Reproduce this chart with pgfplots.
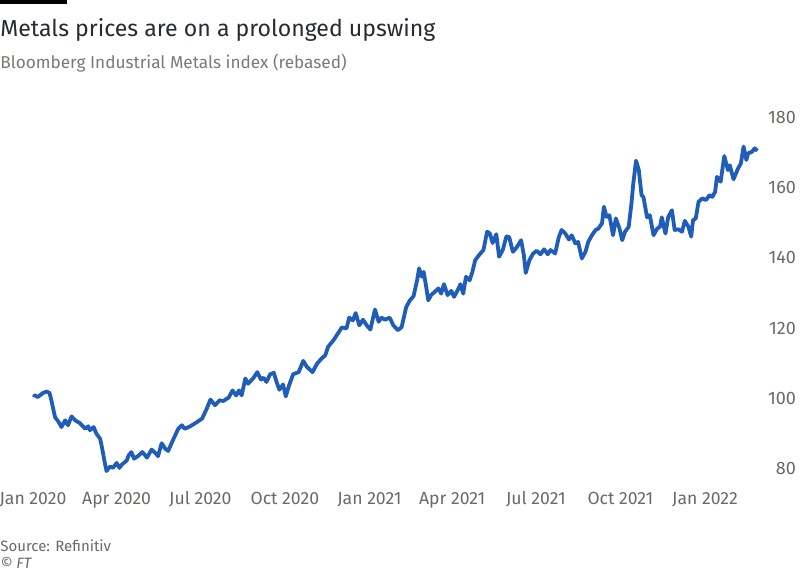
\documentclass[border=0pt]{standalone}
\usepackage{pgfplots}
\pgfplotsset{compat=1.18}
\usepackage{pgfplotstable}
\usepackage{fontspec}
\setmainfont{Fira Sans}
\definecolor{ftblue}{HTML}{1F5DB8}
\definecolor{fttitle}{HTML}{262A33}
\definecolor{ftgray}{HTML}{6E6863}
\definecolor{ftsub}{HTML}{7D7873}

% day = days since 1 Jan 2020, value = index (rebased)
\pgfplotstableread{
day value
1 100.4
2 100.9
5 100.4
11 101.6
15 102.0
18 101.6
20 99.5
24 94.7
28 93.3
31 91.9
35 93.8
38 92.4
42 94.9
46 93.8
51 93.0
57 91.4
60 92.1
62 91.0
66 91.9
69 90.0
73 88.6
75 86.2
78 81.9
80 79.4
84 80.7
87 80.3
91 81.7
94 80.3
97 81.3
102 82.4
104 83.8
107 84.8
110 82.9
115 83.8
119 84.8
124 83.2
129 85.5
134 84.3
136 83.6
140 87.3
144 85.7
147 85.1
153 88.6
158 91.4
162 92.4
165 91.4
171 92.1
176 92.9
184 94.3
189 97.1
193 99.7
198 98.1
203 99.5
207 99.3
213 100.3
217 102.3
221 100.9
224 102.3
227 100.9
231 105.7
234 104.2
240 105.9
244 107.5
248 105.4
251 105.9
254 104.7
258 106.9
262 107.3
265 104.7
268 102.5
272 104.0
275 100.6
278 103.3
283 106.9
289 107.5
294 110.7
298 109.0
304 107.5
309 109.9
314 111.4
318 112.3
321 114.7
327 116.6
332 118.6
336 120.2
341 119.9
344 123.0
348 122.2
351 124.3
355 120.8
359 122.4
363 120.8
367 119.6
372 125.3
376 121.8
379 123.0
383 122.4
388 123.0
392 120.8
397 119.4
401 120.3
406 126.0
410 127.9
414 129.1
418 133.8
420 137.0
423 134.6
425 136.0
428 131.3
430 127.9
433 129.4
437 130.3
441 131.3
444 129.8
447 132.5
451 129.4
455 130.6
458 128.9
462 130.8
465 132.5
468 129.8
471 134.6
475 133.6
478 136.0
481 139.3
485 140.7
490 142.2
494 147.4
497 146.9
500 144.2
504 146.7
507 140.3
511 142.2
515 146.1
518 145.9
522 141.7
526 142.9
531 145.0
534 140.7
536 135.7
540 139.3
544 141.2
548 142.0
552 141.0
556 142.4
560 141.0
563 142.2
568 141.2
572 145.9
575 147.9
579 146.9
583 145.2
586 146.4
590 144.1
593 144.5
597 139.8
601 141.7
604 144.5
608 146.4
612 147.9
615 148.3
619 149.8
621 154.5
624 151.6
627 152.1
631 146.4
634 151.2
638 148.3
641 145.0
644 147.4
648 148.8
651 155.4
653 161.1
656 167.6
658 165.9
659 164.9
662 157.8
664 157.3
668 151.5
671 152.1
675 146.4
679 148.3
682 148.8
684 151.5
688 146.9
691 151.6
695 153.5
698 147.9
702 148.1
706 147.4
709 150.5
713 148.8
716 146.0
718 150.7
721 151.2
724 155.9
728 156.9
732 156.4
736 157.8
739 157.3
742 158.7
744 163.0
748 161.6
752 168.9
756 164.9
758 166.3
762 162.3
767 165.4
770 166.8
773 171.6
776 167.8
778 169.7
782 170.1
785 171.1
788 170.4
}\metals

\begin{document}
\begin{tikzpicture}
\useasboundingbox (0,0) rectangle (400pt,285.5pt);
\fill[black] (0,283.3pt) rectangle (33.5pt,285.5pt);
\node[anchor=base west, inner sep=0pt, font=\fontsize{11.55}{13}\selectfont, text=fttitle] at (0,267pt) {Metals prices are on a prolonged upswing};
\node[anchor=base west, inner sep=0pt, font=\fontsize{8.6}{10}\selectfont, text=ftsub] at (0,251pt) {Bloomberg Industrial Metals index (rebased)};
\node[anchor=base west, inner sep=0pt, font=\fontsize{7.5}{9}\selectfont, text=ftgray] at (0,9.8pt) {Source: Refinitiv};
\node[anchor=base west, inner sep=0pt, font=\fontsize{7.5}{9}\selectfont\itshape, text=ftgray] at (0,1pt) {\textcopyright{} FT};
\begin{axis}[
  at={(0.4pt,44pt)}, anchor=south west,
  scale only axis, width=380.6pt, height=186.5pt,
  xmin=-35, xmax=793, ymin=76, ymax=182,
  axis line style={draw=none},
  tick style={draw=none},
  ytick={80,100,120,140,160,180},
  yticklabel pos=right,
  /pgf/number format/assume math mode=true,
  yticklabel style={anchor=east, xshift=20.5pt, font=\fontsize{9}{10}\selectfont, text=ftgray},
  xtick={0,91,182,274,366,456,547,639,731},
  xticklabels={Jan 2020,Apr 2020,Jul 2020,Oct 2020,Jan 2021,Apr 2021,Jul 2021,Oct 2021,Jan 2022},
  xticklabel style={anchor=base, yshift=-11pt, font=\fontsize{8.8}{10}\selectfont, text=ftgray},
  clip=false,
]
\addplot[ftblue, line width=1.9pt, line join=round] table[x=day, y=value] {\metals};
\end{axis}
\end{tikzpicture}
\end{document}
